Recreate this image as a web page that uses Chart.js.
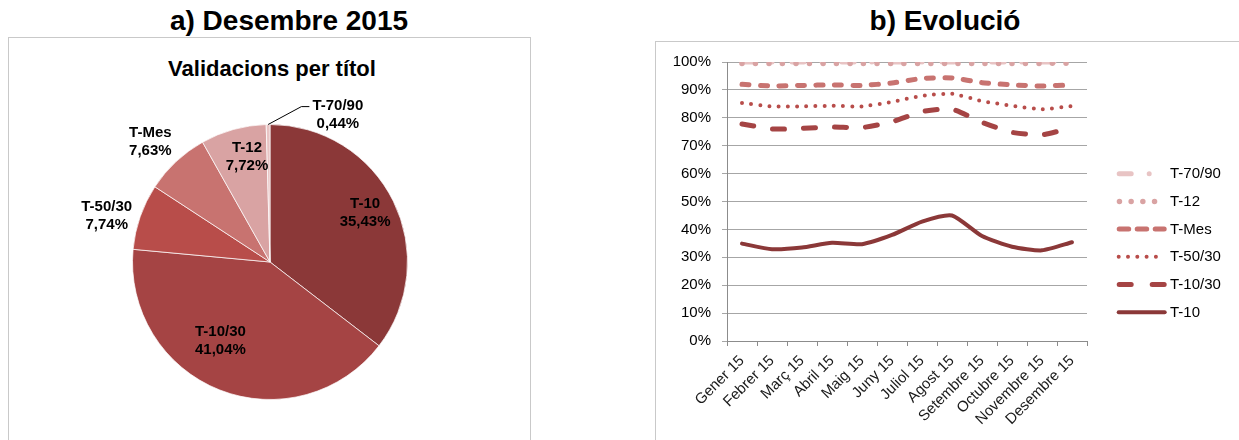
<!DOCTYPE html>
<html>
<head>
<meta charset="utf-8">
<script src="https://cdn.jsdelivr.net/npm/chart.js@4.4.0/dist/chart.umd.min.js"></script>
<style>
html,body{margin:0;padding:0;background:#fff;width:1239px;height:440px;overflow:hidden;font-family:"Liberation Sans",Arial,sans-serif;}
.title{position:absolute;font-weight:bold;color:#000;white-space:nowrap;transform:translateX(-50%);line-height:1;}
#pieBox{position:absolute;left:8px;top:37px;width:523px;height:430px;border:1px solid #C9C9C9;box-sizing:border-box;}
#lineBox{position:absolute;left:655px;top:41px;width:620px;height:430px;border:1px solid #C9C9C9;box-sizing:border-box;}
#pieWrap{position:absolute;left:9px;top:38px;width:521px;height:402px;}
#lineWrap{position:absolute;left:656px;top:42px;width:583px;height:398px;}
</style>
</head>
<body>
<div id="pieBox"></div>
<div id="lineBox"></div>
<div class="title" style="left:289px;top:7px;font-size:28px;">a) Desembre 2015</div>
<div class="title" style="left:945px;top:7px;font-size:28px;">b) Evolució</div>
<div class="title" style="left:272px;top:58px;font-size:22px;">Validacions per títol</div>
<div id="pieWrap"><canvas id="pie"></canvas></div>
<div id="lineWrap"><canvas id="line"></canvas></div>
<script>
// ---------- Data ----------
const pieLabels = ['T-10', 'T-10/30', 'T-50/30', 'T-Mes', 'T-12', 'T-70/90'];
const pieValues = [35.43, 41.04, 7.74, 7.63, 7.72, 0.44];
const seriesColors = ['#8B3838', '#A54444', '#B84D4A', '#C87370', '#D9A3A3', '#E8C4C4'];

const months = ['Gener 15', 'Febrer 15', 'Març 15', 'Abril 15', 'Maig 15', 'Juny 15',
                'Juliol 15', 'Agost 15', 'Setembre 15', 'Octubre 15', 'Novembre 15', 'Desembre 15'];
// cumulative share (%) as plotted
const cumT10   = [34.9, 32.9, 33.5, 35.2, 34.7, 38.0, 42.8, 45.0, 37.6, 33.8, 32.5, 35.4];
const cumT1030 = [77.8, 76.0, 76.2, 76.7, 76.5, 78.6, 82.2, 83.1, 78.4, 74.8, 73.9, 76.5];
const cumT5030 = [85.3, 84.1, 84.1, 84.3, 84.1, 85.7, 87.9, 88.6, 86.0, 84.3, 83.1, 84.2];
const cumTMes  = [92.0, 91.4, 91.6, 91.8, 91.6, 92.5, 94.1, 94.3, 92.6, 91.8, 91.4, 91.8];
const cumT12   = [99.5, 99.5, 99.5, 99.5, 99.5, 99.5, 99.5, 99.5, 99.5, 99.5, 99.5, 99.6];
const cumT7090 = [100, 100, 100, 100, 100, 100, 100, 100, 100, 100, 100, 100];
const yTicks = [0, 10, 20, 30, 40, 50, 60, 70, 80, 90, 100];

// ---------- Pie label placement (style) ----------
const labelRadius = [0.78, 0.68, 1.235, 1.235, 0.78, 1.18];
const labelAngleShift = [-1.3, 10.6, -3.3, -1.7, 3.1, 25.5];
const labelLeader = [false, false, false, false, false, true];

const FONT = '"Liberation Sans", Arial, sans-serif';

const pieLabelPlugin = {
  id: 'pieLabelPlugin',
  afterDatasetsDraw(chart) {
    const ctx = chart.ctx;
    const meta = chart.getDatasetMeta(0);
    ctx.save();
    ctx.font = 'bold 15px ' + FONT;
    ctx.fillStyle = '#000';
    ctx.textAlign = 'center';
    ctx.textBaseline = 'middle';
    meta.data.forEach((arc, i) => {
      const p = arc.getProps(['x', 'y', 'startAngle', 'endAngle', 'outerRadius'], true);
      const midRaw = (p.startAngle + p.endAngle) / 2;
      const mid = midRaw + labelAngleShift[i] * Math.PI / 180;
      const r = p.outerRadius * labelRadius[i];
      const lx = p.x + Math.cos(mid) * r;
      const ly = p.y + Math.sin(mid) * r;
      const pct = pieValues[i].toFixed(2).replace('.', ',') + '%';
      ctx.fillText(pieLabels[i], lx, ly - 9);
      ctx.fillText(pct, lx, ly + 9);
      if (labelLeader[i]) {
        const w = ctx.measureText(pieLabels[i]).width;
        const sx = p.x + Math.cos(midRaw) * p.outerRadius;
        const sy = p.y + Math.sin(midRaw) * p.outerRadius;
        const ex = lx - w / 2 - 3;
        const ey = ly - 8;
        ctx.beginPath();
        ctx.strokeStyle = '#000';
        ctx.lineWidth = 1;
        ctx.moveTo(sx, sy);
        ctx.lineTo(ex - 8, ey);
        ctx.lineTo(ex, ey);
        ctx.stroke();
      }
    });
    ctx.restore();
  }
};

new Chart(document.getElementById('pie'), {
  type: 'pie',
  data: {
    labels: pieLabels,
    datasets: [{
      data: pieValues,
      backgroundColor: seriesColors,
      borderColor: 'rgba(255,255,255,0.7)',
      borderWidth: 1
    }]
  },
  options: {
    responsive: true,
    maintainAspectRatio: false,
    animation: false,
    layout: { padding: { left: 123, right: 122, top: 86, bottom: 40 } },
    plugins: { legend: { display: false }, tooltip: { enabled: false }, title: { display: false } }
  },
  plugins: [pieLabelPlugin]
});

// ---------- Line chart ----------
const lineStyles = [
  { label: 'T-10',    data: cumT10,   color: seriesColors[0], width: 4,   dash: [],             legendDash: [] },
  { label: 'T-10/30', data: cumT1030, color: seriesColors[1], width: 5,   dash: [12, 19],       legendDash: [12, 21] },
  { label: 'T-50/30', data: cumT5030, color: seriesColors[2], width: 4,   dash: [0, 9.2],       legendDash: [0, 9.3] },
  { label: 'T-Mes',   data: cumTMes,  color: seriesColors[3], width: 5,   dash: [7, 11.5],      legendDash: [9.5, 8.5] },
  { label: 'T-12',    data: cumT12,   color: seriesColors[4], width: 5.5, dash: [0, 13.5],      legendDash: [0, 11.7] },
  { label: 'T-70/90', data: cumT7090, color: seriesColors[5], width: 5,   dash: [12, 18, 0, 20], legendDash: [12, 18, 0, 40] }
];

const legendPlugin = {
  id: 'sideLegend',
  afterDraw(chart) {
    const ctx = chart.ctx;
    const area = chart.chartArea;
    ctx.save();
    ctx.font = '15px ' + FONT;
    ctx.textBaseline = 'middle';
    ctx.textAlign = 'left';
    const order = lineStyles.slice().reverse();
    order.forEach((s, i) => {
      const y = area.top + 111.7 + i * 27.7;
      const x0 = area.right + 29.7 + s.width / 2;
      const x1 = area.right + 79.7 - s.width / 2;
      ctx.beginPath();
      ctx.strokeStyle = s.color;
      ctx.lineWidth = s.width;
      ctx.lineCap = 'round';
      ctx.setLineDash(s.legendDash);
      ctx.moveTo(x0, y);
      ctx.lineTo(x1, y);
      ctx.stroke();
      ctx.setLineDash([]);
      ctx.fillStyle = '#000';
      ctx.fillText(s.label, area.right + 83, y + 0.5);
    });
    ctx.restore();
  }
};

new Chart(document.getElementById('line'), {
  type: 'line',
  data: {
    labels: months,
    datasets: lineStyles.map(s => ({
      label: s.label,
      data: s.data,
      borderColor: s.color,
      backgroundColor: s.color,
      borderWidth: s.width,
      borderDash: s.dash,
      borderCapStyle: 'round',
      borderJoinStyle: 'round',
      pointRadius: 0,
      tension: 0.2,
      fill: false
    }))
  },
  options: {
    responsive: true,
    maintainAspectRatio: false,
    animation: false,
    layout: { padding: { left: 0, right: 152, top: 18, bottom: 0 } },
    plugins: { legend: { display: false }, tooltip: { enabled: false } },
    scales: {
      x: {
        offset: true,
        afterFit(scale) { scale.height = 99; },
        grid: { display: true, offset: true, drawOnChartArea: false, drawTicks: true, tickLength: 5, color: '#8C8C8C' },
        border: { display: true, color: '#8C8C8C', width: 1 },
        ticks: { color: '#1a1a1a', font: { size: 15, family: FONT }, minRotation: 45, maxRotation: 45, padding: 6, autoSkip: false }
      },
      y: {
        min: 0, max: 100,
        afterFit(scale) { scale.width = 71; },
        afterBuildTicks(scale) { scale.ticks = yTicks.map(v => ({ value: v })); },
        grid: { color: '#A6A6A6', lineWidth: 1, drawTicks: true, tickLength: 5 },
        border: { display: true, color: '#8C8C8C', width: 1 },
        ticks: { color: '#000', font: { size: 15, family: FONT }, padding: 11, callback: v => v + '%' }
      }
    }
  },
  plugins: [legendPlugin]
});
</script>
</body>
</html>
